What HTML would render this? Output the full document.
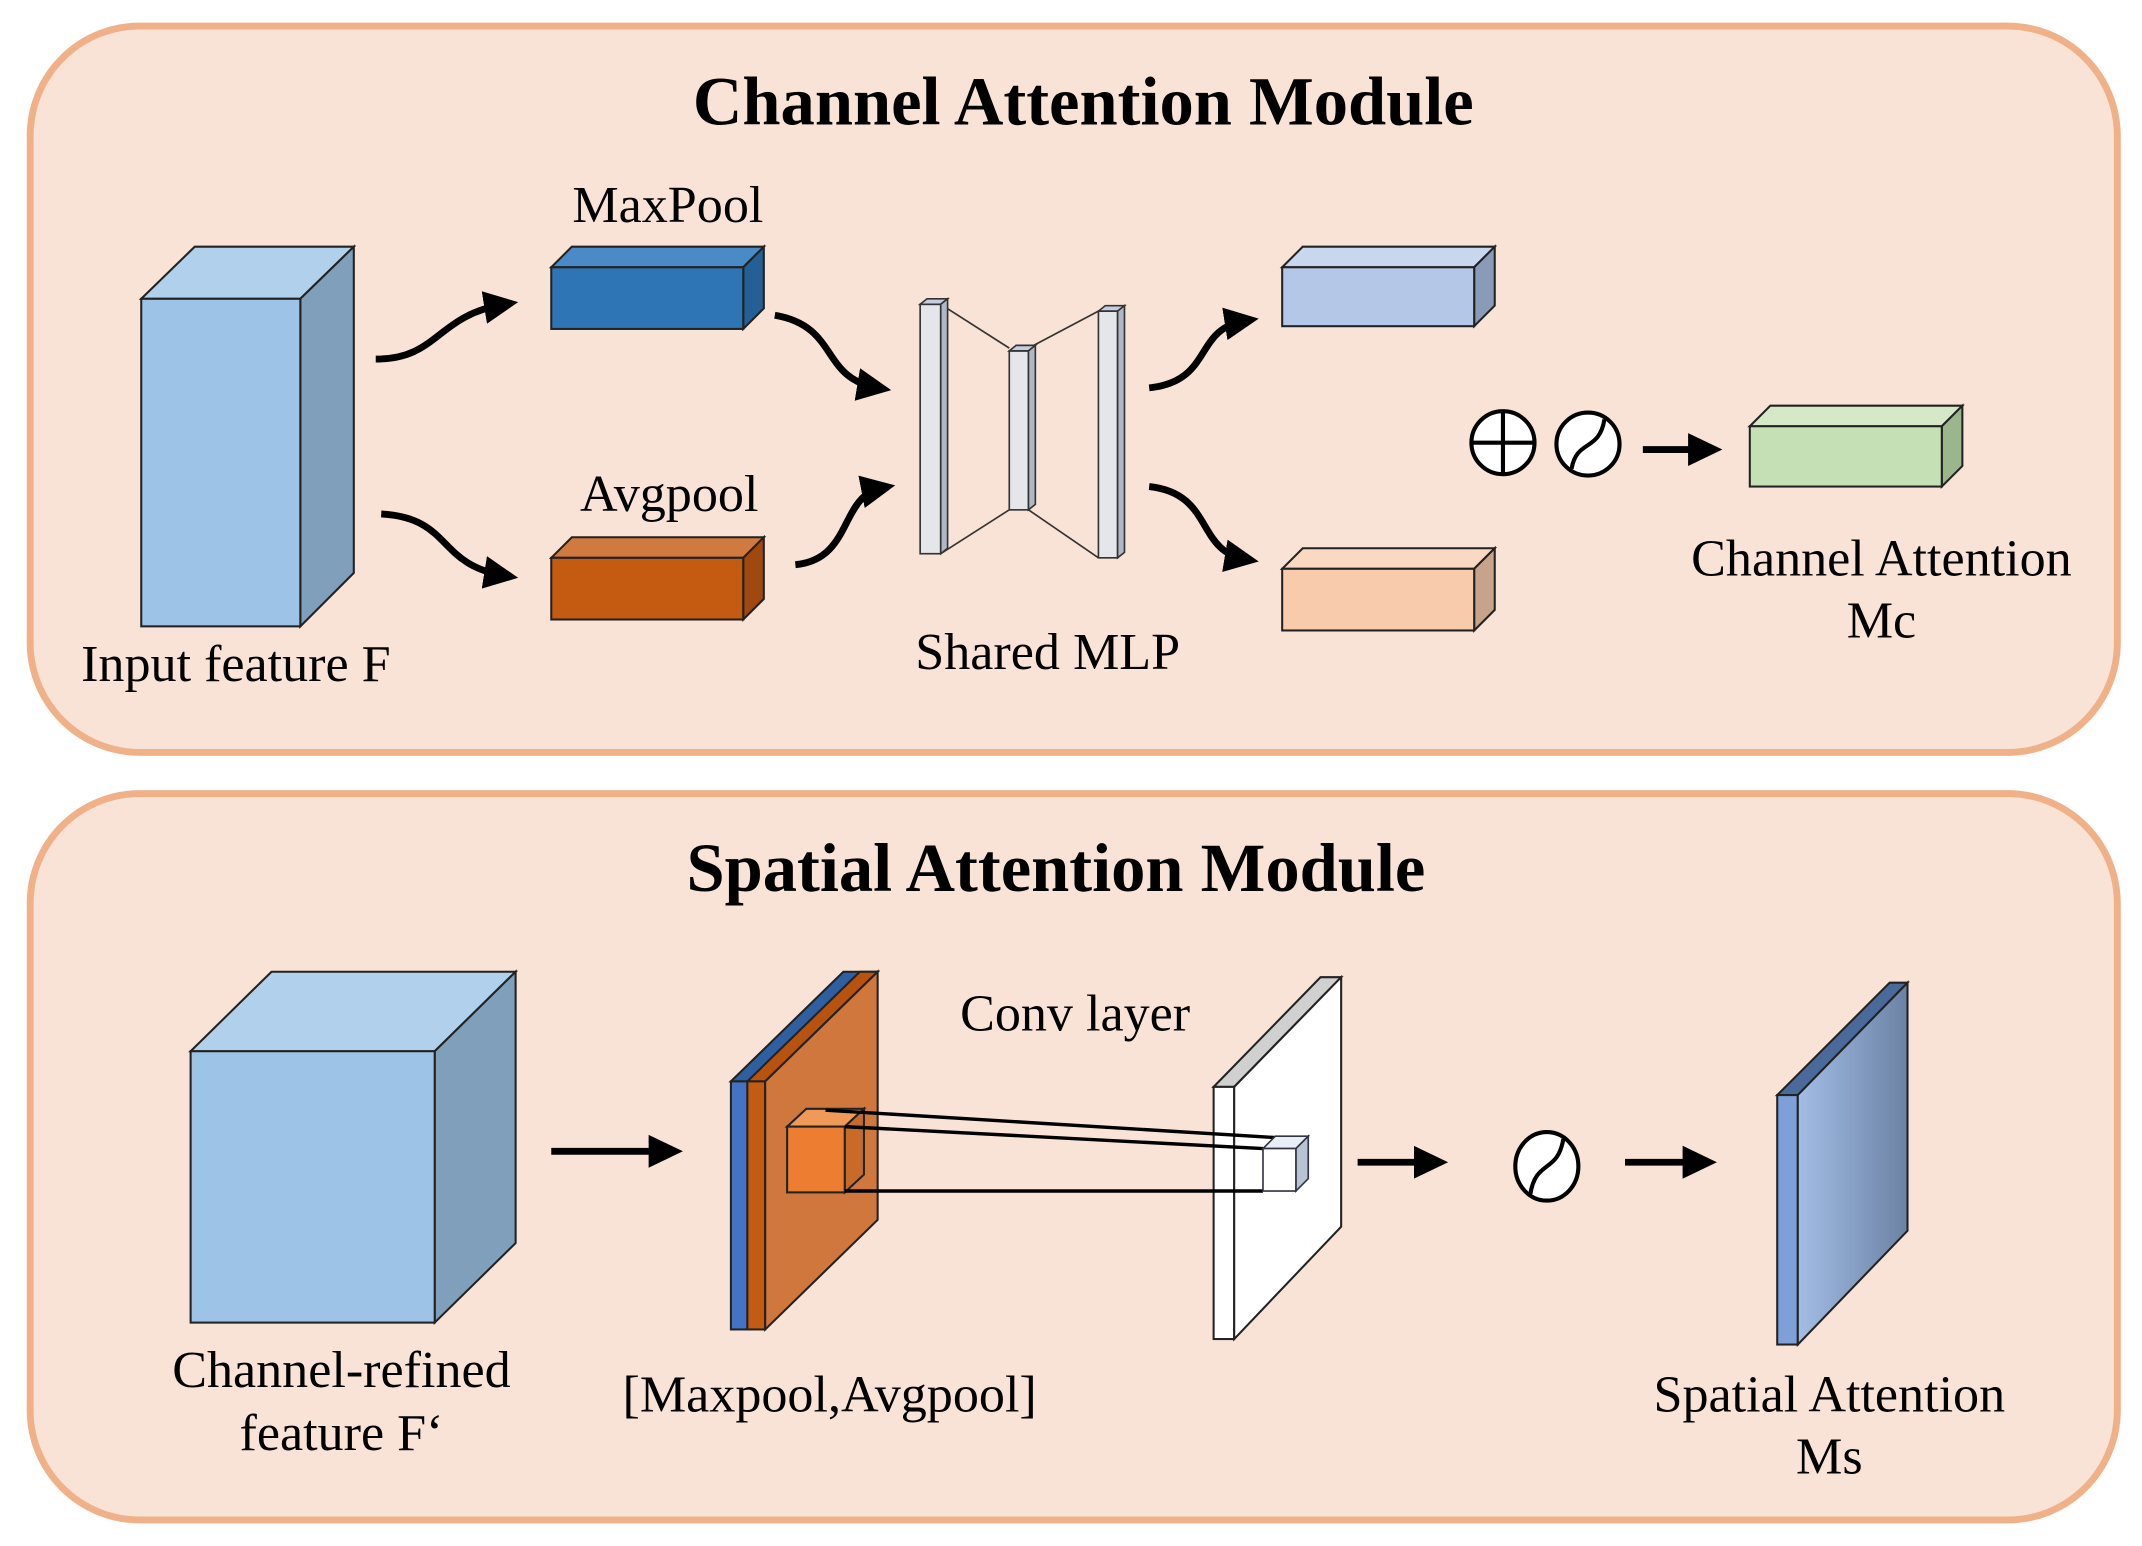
<!DOCTYPE html>
<html><head><style>html,body{margin:0;padding:0;background:#fff}svg{display:block}</style></head>
<body>
<svg width="2142" height="1546" viewBox="0 0 1562 1128" preserveAspectRatio="none" xmlns="http://www.w3.org/2000/svg" font-family="Liberation Serif, serif">
<defs>
<marker id="ah" markerWidth="6" markerHeight="6" refX="3" refY="3" orient="auto" markerUnits="strokeWidth"><path d="M0,0.6 L5,3 L0,5.4 Z" fill="#000"/></marker>
<linearGradient id="gb" x1="0" x2="1" y1="0" y2="0"><stop offset="0" stop-color="#a3bde6"/><stop offset="1" stop-color="#6b82a3"/></linearGradient>
</defs>
<rect x="22" y="19" width="1522" height="530" rx="80" fill="#f9e3d6" stroke="#f0b088" stroke-width="5"/>
<rect x="22" y="579" width="1522" height="530" rx="80" fill="#f9e3d6" stroke="#f0b088" stroke-width="5"/>
<text x="790" y="91" font-size="50" font-weight="bold" text-anchor="middle">Channel Attention Module</text>
<text x="770" y="650" font-size="50" font-weight="bold" text-anchor="middle">Spatial Attention Module</text>
<g stroke="#222" stroke-width="1.5">
<polygon points="103,218 219,218 258,180 142,180" fill="#b0d0ec"/>
<polygon points="219,218 258,180 258,418 219,457" fill="#7f9fbb"/>
<rect x="103" y="218" width="116" height="239" fill="#9dc3e6"/>
<polygon points="402,195 542,195 557,180 417,180" fill="#4a8ac6"/>
<polygon points="542,195 557,180 557,225 542,240" fill="#245f95"/>
<rect x="402" y="195" width="140" height="45" fill="#2e75b6"/>
<polygon points="402,407 542,407 557,392 417,392" fill="#d07a40"/>
<polygon points="542,407 557,392 557,437 542,452" fill="#a0490e"/>
<rect x="402" y="407" width="140" height="45" fill="#c55a11"/>
<polygon points="935,195 1075,195 1090,180 950,180" fill="#c8d6ee"/>
<polygon points="1075,195 1090,180 1090,223 1075,238" fill="#8a9bb8"/>
<rect x="935" y="195" width="140" height="43" fill="#b4c7e7"/>
<polygon points="935,415 1075,415 1090,400 950,400" fill="#fad9c3"/>
<polygon points="1075,415 1090,400 1090,445 1075,460" fill="#c8a38b"/>
<rect x="935" y="415" width="140" height="45" fill="#f8cbad"/>
<polygon points="1276,311 1416,311 1431,296 1291,296" fill="#d5e8c8"/>
<polygon points="1416,311 1431,296 1431,340 1416,355" fill="#9bb58c"/>
<rect x="1276" y="311" width="140" height="44" fill="#c5e0b4"/>
</g>
<g stroke="#333" stroke-width="1.2">
<line x1="686" y1="222" x2="736" y2="254"/><line x1="750" y1="254" x2="801" y2="227"/>
<line x1="686" y1="404" x2="736" y2="372"/><line x1="750" y1="372" x2="801" y2="407"/>
<g fill="#e4e6ea"><rect x="671" y="222" width="15" height="182"/><polygon points="671,222 686,222 691,218 676,218" fill="#c5cde0"/><polygon points="686,222 691,218 691,400 686,404" fill="#b0b8c8"/>
<rect x="736" y="256" width="14" height="116"/><polygon points="736,256 750,256 755,252 741,252" fill="#c5cde0"/><polygon points="750,256 755,252 755,368 750,372" fill="#b0b8c8"/>
<rect x="801" y="227" width="14" height="180"/><polygon points="801,227 815,227 820,223 806,223" fill="#c5cde0"/><polygon points="815,227 820,223 820,403 815,407" fill="#b0b8c8"/></g>
</g>
<g fill="none" stroke="#000" stroke-width="5" marker-end="url(#ah)">
<path d="M274,262 C320,262 318,230 368,222"/>
<path d="M278,375 C330,378 318,412 368,420"/>
<path d="M565,230 C612,238 598,276 640,283"/>
<path d="M580,412 C622,408 612,362 643,356"/>
<path d="M838,283 C885,278 870,240 908,234"/>
<path d="M838,355 C885,360 872,402 908,408"/>
<path d="M1198,328 L1246,328"/>
<path d="M402,840 L488,840"/>
<path d="M990,848 L1046,848"/>
<path d="M1185,848 L1242,848"/>
</g>
<g fill="#fff" stroke="#000" stroke-width="3">
<circle cx="1096" cy="323" r="23"/>
<circle cx="1158" cy="324" r="23"/>
<ellipse cx="1128" cy="851" rx="23" ry="25"/>
</g>
<g fill="none" stroke="#000" stroke-width="3">
<line x1="1073" y1="323" x2="1119" y2="323"/><line x1="1096" y1="300" x2="1096" y2="346"/>
<path d="M1146,342 C1150,320 1166,330 1170,306"/>
<path d="M1116,871 C1120,846 1136,856 1140,831"/>
</g>
<g stroke="#222" stroke-width="1.5">
<polygon points="139,767 317,767 376,709 198,709" fill="#b0d0ec"/>
<polygon points="317,767 376,709 376,907 317,965" fill="#7f9fbb"/>
<rect x="139" y="767" width="178" height="198" fill="#9dc3e6"/>
<polygon points="533,789 558,789 640,709 615,709" fill="#2e5fa0"/>
<polygon points="545,789 558,789 640,709 627,709" fill="#b8520f"/>
<rect x="533" y="789" width="12" height="181" fill="#4472c4"/>
<rect x="545" y="789" width="13" height="181" fill="#c55a11"/>
<polygon points="558,789 640,709 640,890 558,970" fill="#d0773d"/>
<polygon points="574,822 616,822 630,809 588,809" fill="#f09a5a"/>
<polygon points="616,822 630,809 630,857 616,870" fill="#c86a28"/>
<rect x="574" y="822" width="42" height="48" fill="#ed7d31"/>
<polygon points="885,793 900,793 978,713 963,713" fill="#d0d0d0"/>
<rect x="885" y="793" width="15" height="184" fill="#fff"/>
<polygon points="900,793 978,713 978,895 900,977" fill="#fff"/>
</g>
<g stroke="#000" stroke-width="2.5">
<line x1="602" y1="810" x2="930" y2="830"/>
<line x1="616" y1="822" x2="921" y2="838"/>
<line x1="616" y1="869" x2="921" y2="869"/>
</g>
<g stroke="#334" stroke-width="1.2">
<polygon points="921,838 945,838 954,829 930,829" fill="#e8eef6"/>
<polygon points="945,838 954,829 954,860 945,869" fill="#b8c4d4"/>
<rect x="921" y="838" width="24" height="31" fill="#fff"/>
</g>
<g stroke="#222" stroke-width="1.5">
<polygon points="1296,799 1311,799 1391,717 1378,717" fill="#4a6a9c"/>
<rect x="1296" y="799" width="15" height="182" fill="#7f9fd8"/>
<polygon points="1311,799 1391,717 1391,898 1311,981" fill="url(#gb)"/>
</g>
<g font-size="38" fill="#000" text-anchor="middle">
<text x="172" y="497">Input feature F</text>
<text x="487" y="162">MaxPool</text>
<text x="488" y="373">Avgpool</text>
<text x="764" y="488">Shared MLP</text>
<text x="1372" y="420">Channel Attention</text>
<text x="1372" y="465">Mc</text>
<text x="249" y="1012">Channel-refined</text>
<text x="249" y="1058">feature F‘</text>
<text x="784" y="752">Conv layer</text>
<text x="605" y="1030">[Maxpool,Avgpool]</text>
<text x="1334" y="1030">Spatial Attention</text>
<text x="1334" y="1075">Ms</text>
</g>
</svg>
</body></html>
